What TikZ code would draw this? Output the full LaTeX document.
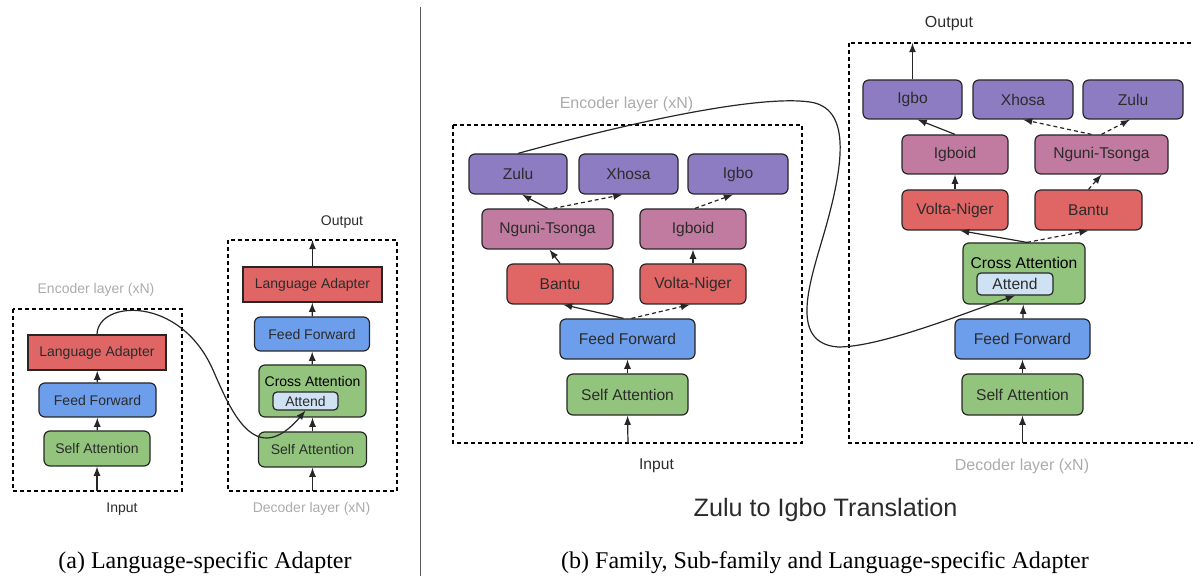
\documentclass[tikz,border=0pt]{standalone}
\usepackage{fontspec}
\setmainfont{Liberation Serif}
\setsansfont{Liberation Sans}
\usetikzlibrary{arrows,positioning}

\definecolor{adred}{HTML}{E06666}
\definecolor{adblue}{HTML}{6D9EEB}
\definecolor{adgreen}{HTML}{93C47D}
\definecolor{adpurple}{HTML}{8E7CC3}
\definecolor{adpink}{HTML}{C27BA0}
\definecolor{adattend}{HTML}{CFE2F3}
\definecolor{adgray}{HTML}{ABABAB}
\definecolor{adtext}{HTML}{2B2B2B}

\tikzset{
  blk/.style={draw=black!85, line width=0.6pt, inner sep=0pt, text=adtext},
  rbox/.style={blk, rounded corners=3pt},
  langbox/.style={blk, fill=adred},
  redbox/.style={rbox, fill=adred},
  bluebox/.style={rbox, fill=adblue},
  greenbox/.style={rbox, fill=adgreen},
  purplebox/.style={rbox, fill=adpurple},
  pinkbox/.style={rbox, fill=adpink},
  attbox/.style={rbox, fill=adattend, rounded corners=2pt},
  conn/.style={->, >=latex, line width=0.6pt, draw=black!85},
  dconn/.style={conn, dash pattern=on 2pt off 1.5pt},
  layer/.style={draw=black, line width=0.6pt, dash pattern=on 2pt off 1.5pt},
  glab/.style={text=adgray},
  tlab/.style={text=adtext},
}

\begin{document}
\begin{tikzpicture}[x=0.5pt, y=-0.5pt, font=\sffamily]
		\useasboundingbox (0,0) rectangle (1193,576);
		\clip (0,0) rectangle (1193,576);
		\draw[black!65, line width=0.7pt] (420.5,7) -- (420.5,576);
		% (a) encoder
		\begin{scope}[font=\sffamily\fontsize{7}{8}\selectfont]
		\draw[layer] (13,309) rectangle (182,491);
		\node[glab] (enclab1) at (96,290) {Encoder layer (xN)};
		\node[langbox, minimum width=69pt, minimum height=17.5pt] (la1) at (97,352.5) {Language Adapter};
		\node[bluebox, minimum width=58.5pt, minimum height=17pt] (ff1) at (97.5,400) {Feed Forward};
		\node[greenbox, minimum width=53pt, minimum height=17.5pt] (sa1) at (97,448.5) {Self Attention};
		\coordinate (in1) at (97,491);
		\node[tlab] (inlab1) at (122,509) {Input};
		\draw[conn] (in1)--(sa1.south);
		\draw[conn] (sa1)--(ff1);
		\draw[conn] (ff1)--(la1);
		% (a) decoder
		\draw[layer] (228,240) rectangle (397,491);
		\node[tlab] (outlab2) at (342,222) {Output};
		\coordinate (out2) at (312.5,240);
		\node[langbox, minimum width=69.5pt, minimum height=17.5pt] (la2) at (312.5,284.5) {Language Adapter};
		\node[bluebox, minimum width=57.5pt, minimum height=17pt] (ff2) at (312,334) {Feed Forward};
		\node[greenbox, minimum width=53.5pt, minimum height=26pt] (ca2) at (312.5,391) {};
		\node (catxt2) at (312.5,381.5) {Cross Attention};
		\node[attbox, minimum width=32.5pt, minimum height=9pt] (att2) at (305.5,401) {Attend};
		\node[greenbox, minimum width=54pt, minimum height=17.5pt] (sa2) at (312.5,449.5) {Self Attention};
		\coordinate (in2) at (312.5,491);
		\node[glab] (declab2) at (311.5,509) {Decoder layer (xN)};
		\draw[conn] (in2)--(sa2.south);
		\draw[conn] (sa2)--(ca2);
		\draw[conn] (ca2)--(ff2);
		\draw[conn] (ff2)--(la2);
		\draw[conn] (la2)--(out2);
		% encoder output to attend
		\draw[conn] (la1.north) .. controls (98,300) and (180,295) .. (213,370)
			.. controls (231,411) and (255,470) .. (att2.south);
		\end{scope}
		% (b) encoder
		\begin{scope}[font=\sffamily\fontsize{7.8}{9}\selectfont]
		\draw[layer] (453,125) rectangle (802,443);
		\node[glab, font=\sffamily\fontsize{8}{9}\selectfont] (enclab3) at (626.5,104) {Encoder layer (xN)};
		\node[purplebox, minimum width=49pt, minimum height=20pt] (zulu3) at (518,174) {Zulu};
		\node[purplebox, minimum width=49.5pt, minimum height=20pt] (xhosa3) at (628.5,174) {Xhosa};
		\node[purplebox, minimum width=50pt, minimum height=20pt] (igbo3) at (738,174) {Igbo};
		\node[pinkbox, minimum width=65.5pt, minimum height=20pt] (nguni3) at (547.5,229) {Nguni-Tsonga};
		\node[pinkbox, minimum width=53pt, minimum height=20pt] (igboid3) at (693,229) {Igboid};
		\node[redbox, minimum width=53pt, minimum height=20pt] (bantu3) at (560,284) {Bantu};
		\node[redbox, minimum width=53pt, minimum height=20pt] (volta3) at (693,284) {Volta-Niger};
		\node[bluebox, minimum width=67.5pt, minimum height=20pt] (ff3) at (627.5,339) {Feed Forward};
		\node[greenbox, minimum width=60.5pt, minimum height=20.5pt] (sa3) at (627.5,394.5) {Self Attention};
		\coordinate (in3) at (628,443);
		\node[tlab] (inlab3) at (656.5,466) {Input};
		\draw[conn] (in3)--(sa3.south);
		\draw[conn] (sa3)--(ff3);
		\draw[conn] ([xshift=-2pt]ff3.north)--([xshift=1.5pt]bantu3.south);
		\draw[dconn] ([xshift=2pt]ff3.north)--([xshift=-1.5pt]volta3.south);
		\draw[conn] (bantu3.north)--([xshift=1pt]nguni3.south);
		\draw[dconn] (volta3.north)--(igboid3.south);
		\draw[conn] (nguni3.north)--([xshift=2pt]zulu3.south);
		\draw[dconn] ([xshift=3pt]nguni3.north)--([xshift=-3pt]xhosa3.south);
		\draw[dconn] ([xshift=1pt]igboid3.north)--([xshift=-2.5pt]igbo3.south);
		% (b) decoder
		\draw[layer] (849,43) rectangle (1215,443);
		\node[tlab, font=\sffamily\fontsize{8}{9}\selectfont] (outlab4) at (949,24) {Output};
		\coordinate (out4) at (912.5,43);
		\node[purplebox, minimum width=49.5pt, minimum height=19.5pt] (igbo4) at (912.5,99.5) {Igbo};
		\node[purplebox, minimum width=50pt, minimum height=19.5pt] (xhosa4) at (1023,99.5) {Xhosa};
		\node[purplebox, minimum width=50pt, minimum height=19.5pt] (zulu4) at (1133,99.5) {Zulu};
		\node[pinkbox, minimum width=53pt, minimum height=19.5pt] (igboid4) at (955,154.5) {Igboid};
		\node[pinkbox, minimum width=66.5pt, minimum height=19.5pt] (nguni4) at (1101.5,154.5) {Nguni-Tsonga};
		\node[redbox, minimum width=53pt, minimum height=20pt] (volta4) at (955,210) {Volta-Niger};
		\node[redbox, minimum width=53.5pt, minimum height=20pt] (bantu4) at (1088.5,210) {Bantu};
		\node[greenbox, minimum width=61pt, minimum height=30.5pt] (ca4) at (1024,273.5) {};
		\node (catxt4) at (1024,263) {Cross Attention};
		\node[attbox, minimum width=38pt, minimum height=11pt] (att4) at (1015,284) {Attend};
		\node[bluebox, minimum width=67.5pt, minimum height=20pt] (ff4) at (1022.5,339) {Feed Forward};
		\node[greenbox, minimum width=60.5pt, minimum height=20.5pt] (sa4) at (1022.5,394.5) {Self Attention};
		\coordinate (in4) at (1022.5,443);
		\node[glab, font=\sffamily\fontsize{8}{9}\selectfont] (declab4) at (1022,466) {Decoder layer (xN)};
		\draw[conn] (in4)--(sa4.south);
		\draw[conn] (sa4)--(ff4);
		\draw[conn] (ff4)--(ca4);
		\draw[conn] ([xshift=1.5pt]ca4.north)--([xshift=2.5pt]volta4.south);
		\draw[dconn] ([xshift=1.5pt]ca4.north)--(bantu4.south);
		\draw[conn] (volta4)--(igboid4);
		\draw[dconn] (bantu4.north)--(nguni4.south);
		\draw[conn] (igboid4.north)--([xshift=2.5pt]igbo4.south);
		\draw[dconn] ([xshift=-5pt]nguni4.north)--(xhosa4.south);
		\draw[dconn] (nguni4.north)--([xshift=-1.5pt]zulu4.south);
		\draw[conn] (igbo4)--(out4);
		% encoder output to attend
		\draw[conn] (zulu3.north) .. controls (640,120) and (760,95) .. (810,102)
			.. controls (850,108) and (845,160) .. (825,230)
			.. controls (811,279) and (787,343) .. (838,347)
			.. controls (880,347) and (960,315) .. (att4.south);
		\end{scope}
		% titles
		\node[tlab, font=\sffamily\fontsize{12.6}{14}\selectfont] (title) at (825.5,510) {Zulu to Igbo Translation};
		\node[font=\rmfamily\fontsize{12}{14}\selectfont] (capa) at (205,563) {(a) Language-specific Adapter};
		\node[font=\rmfamily\fontsize{12}{14}\selectfont] (capb) at (825,563) {(b) Family, Sub-family and Language-specific Adapter};
\end{tikzpicture}
\end{document}
